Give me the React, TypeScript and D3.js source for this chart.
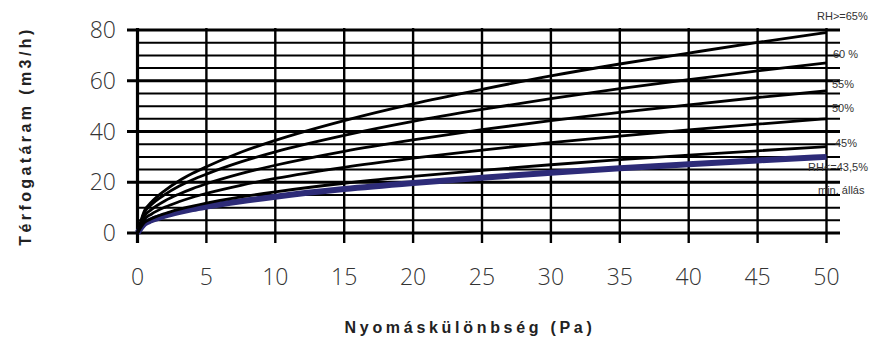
import React, { useRef, useEffect } from 'react'
import * as d3 from 'd3'

// pressure difference (Pa)
const pressure = [0, 0.5, 1, 2, 3, 4, 5, 7.5, 10, 15, 20, 25, 30, 35, 40, 45, 50]

const rh65 = [0, 8.7, 12.1, 16.8, 20.5, 23.5, 26.1, 31.8, 36.5, 44.3, 50.9, 56.6, 61.9, 66.6, 70.9, 75.1, 79]
const rh60 = [0, 8.0, 11.1, 15.2, 18.4, 21.0, 23.2, 28.0, 32.0, 38.5, 44.0, 48.7, 53.0, 56.9, 60.4, 63.9, 67]
const rh55 = [0, 6.7, 9.2, 12.7, 15.3, 17.5, 19.4, 23.4, 26.7, 32.2, 36.7, 40.7, 44.3, 47.5, 50.5, 53.4, 56]
const rh50 = [0, 5.4, 7.4, 10.2, 12.3, 14.1, 15.6, 18.8, 21.5, 25.9, 29.5, 32.7, 35.6, 38.2, 40.6, 42.9, 45]
const rh45 = [0, 4.1, 5.6, 7.7, 9.3, 10.6, 11.8, 14.2, 16.2, 19.6, 22.3, 24.7, 26.9, 28.9, 30.7, 32.4, 34]
const rh435 = [0, 3.6, 5.0, 6.8, 8.2, 9.4, 10.4, 12.5, 14.3, 17.3, 19.7, 21.8, 23.7, 25.5, 27.1, 28.6, 30]

const xTicks = [0, 5, 10, 15, 20, 25, 30, 35, 40, 45, 50]
const yTicks = [0, 20, 40, 60, 80]
const yGrid = [0, 5, 10, 15, 20, 25, 30, 35, 40, 45, 50, 55, 60, 65, 70, 75, 80]

const curveLabels = ['RH>=65%', '60 %', '55%', '50%', '45%', 'RH<=43,5%', 'min. állás']
const labelY = [20, 58, 88, 112, 147, 171, 194]
const labelX = [817, 833, 832, 832, 835, 808, 818]

const renderChart = (svg: SVGSVGElement) => {
  const svgD3 = d3.select(svg)
  svgD3.selectAll('*').remove()

  const x = d3.scaleLinear().domain([0, 50]).range([137.5, 826.5])
  const y = d3.scaleLinear().domain([0, 80]).range([233, 30])

  // horizontal grid every 5, thicker every 20
  svgD3
    .append('g')
    .selectAll('line')
    .data(yGrid)
    .enter()
    .append('line')
    .attr('x1', (d) => (d % 20 === 0 ? 127 : x(0)))
    .attr('x2', 840)
    .attr('y1', (d) => y(d))
    .attr('y2', (d) => y(d))
    .attr('stroke', '#000')
    .attr('stroke-width', (d) => (d % 20 === 0 ? 3.2 : 2))

  // vertical grid + ticks below axis
  svgD3
    .append('g')
    .selectAll('line')
    .data(xTicks)
    .enter()
    .append('line')
    .attr('x1', (d) => x(d))
    .attr('x2', (d) => x(d))
    .attr('y1', y(80) - 2)
    .attr('y2', 243)
    .attr('stroke', '#000')
    .attr('stroke-width', (d) => (d === 0 ? 3.2 : 2.4))

  const line = d3
    .line<number>()
    .x((d, i) => x(pressure[i]))
    .y((d) => y(d))
    .curve(d3.curveMonotoneX)

  // blue base curve first (thick)
  svgD3
    .append('path')
    .datum(rh435)
    .attr('fill', 'none')
    .attr('stroke', '#2d2b78')
    .attr('stroke-width', 6)
    .attr('d', line)

  const blackSeries = [rh65, rh60, rh55, rh50, rh45]
  svgD3
    .append('g')
    .selectAll('path')
    .data(blackSeries)
    .enter()
    .append('path')
    .attr('fill', 'none')
    .attr('stroke', '#000')
    .attr('stroke-width', 2.8)
    .attr('d', (d) => line(d))

  // tick labels
  svgD3
    .append('g')
    .selectAll('text')
    .data(xTicks)
    .enter()
    .append('text')
    .attr('x', (d) => x(d))
    .attr('y', 285)
    .attr('text-anchor', 'middle')
    .attr('font-family', 'Open Sans, sans-serif')
    .attr('font-weight', 300)
    .attr('font-size', 23)
    .attr('fill', '#333')
    .text((d) => d)

  svgD3
    .append('g')
    .selectAll('text')
    .data(yTicks)
    .enter()
    .append('text')
    .attr('x', 116)
    .attr('y', (d) => y(d) + 8)
    .attr('text-anchor', 'end')
    .attr('font-family', 'Open Sans, sans-serif')
    .attr('font-weight', 300)
    .attr('font-size', 23)
    .attr('fill', '#333')
    .text((d) => d)

  // curve labels on the right
  svgD3
    .append('g')
    .selectAll('text')
    .data(curveLabels)
    .enter()
    .append('text')
    .attr('x', (d, i) => labelX[i])
    .attr('y', (d, i) => labelY[i])
    .attr('font-family', 'Liberation Sans Narrow, Liberation Sans, sans-serif')
    .attr('font-size', 11)
    .attr('fill', '#333')
    .text((d) => d)

  // axis titles
  svgD3
    .append('text')
    .attr('x', 470)
    .attr('y', 333)
    .attr('text-anchor', 'middle')
    .attr('font-family', 'Liberation Sans Narrow, Liberation Sans, sans-serif')
    .attr('font-weight', 'bold')
    .attr('font-size', 16)
    .attr('letter-spacing', 3.7)
    .attr('fill', '#222')
    .text('Nyomáskülönbség (Pa)')

  svgD3
    .append('text')
    .attr('transform', 'translate(31, 136) rotate(-90)')
    .attr('text-anchor', 'middle')
    .attr('font-family', 'Liberation Sans Narrow, Liberation Sans, sans-serif')
    .attr('font-weight', 'bold')
    .attr('font-size', 16)
    .attr('letter-spacing', 3.4)
    .attr('fill', '#222')
    .text('Térfogatáram (m3/h)')
}

export default function App() {
  const svgRef = useRef<SVGSVGElement>(null)

  useEffect(() => {
    if (svgRef.current) renderChart(svgRef.current)
  }, [])

  return (
    <div style={{ position: 'absolute', left: 0, top: 0 }}>
      <svg ref={svgRef} width={881} height={339} style={{ display: 'block', background: '#fff' }} />
    </div>
  )
}
